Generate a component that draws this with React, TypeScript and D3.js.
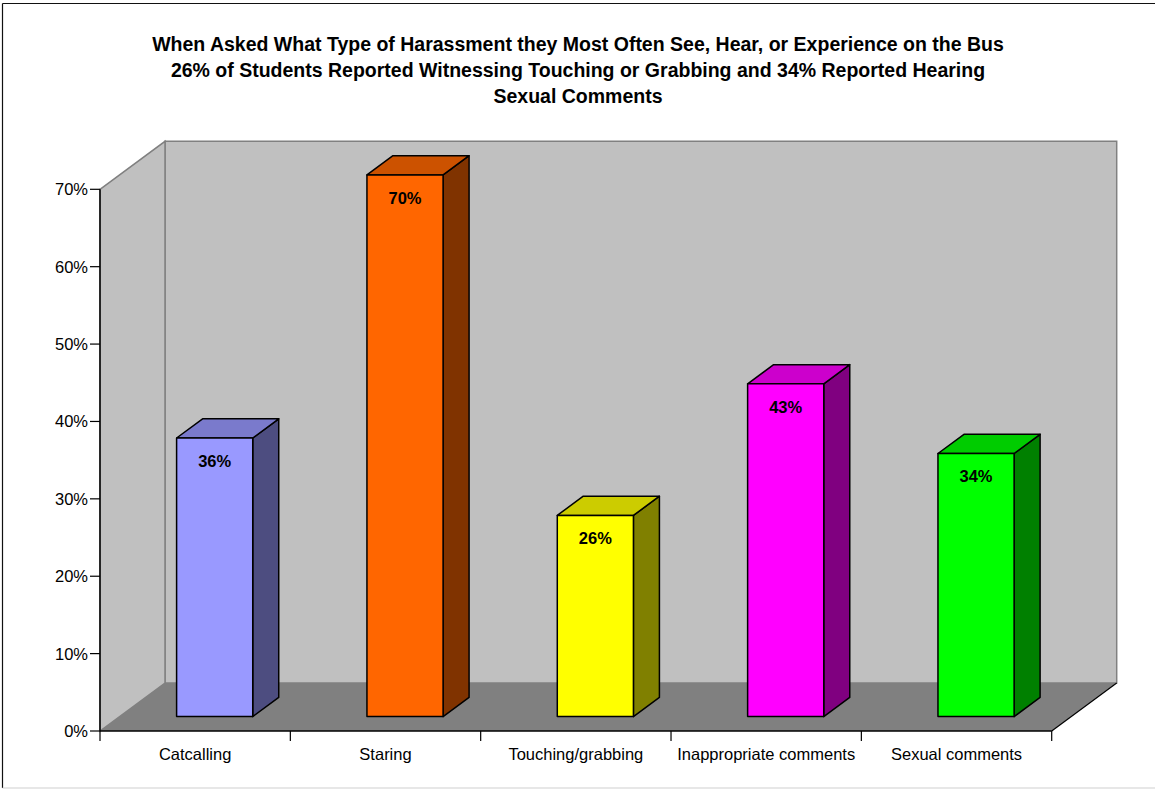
import React from "react";
import * as d3 from "d3";

const titleLines = [
  "When Asked What Type of Harassment they Most Often See, Hear, or Experience on the Bus",
  "26% of Students Reported Witnessing Touching or Grabbing and 34% Reported Hearing",
  "Sexual Comments",
];
const categories = ["Catcalling", "Staring", "Touching/grabbing", "Inappropriate comments", "Sexual comments"];
const values = [0.36, 0.70, 0.26, 0.43, 0.34];
const yTicks = [0, 0.1, 0.2, 0.3, 0.4, 0.5, 0.6, 0.7];
const frontColors = ["#9999FF", "#FF6600", "#FFFF00", "#FF00FF", "#00FF00"];
const topColors = ["#7A7ACC", "#CC5200", "#CCCC00", "#CC00CC", "#00CC00"];
const sideColors = ["#4D4D80", "#803300", "#808000", "#800080", "#008000"];

const W = 1155;
const H = 789;
const FONT = "'Liberation Sans', Arial, sans-serif";

export default function App() {
  const x0 = 100, x1 = 1051.7;
  const yBottom = 731, yTop = 189.3;
  const DX = 65, DY = 48;
  const dFront = 0.3, dBack = 0.7;

  const x = d3.scaleBand<string>().domain(categories).range([x0, x1]).paddingInner(0.6).paddingOuter(0.3);
  const xc = d3.scaleBand<string>().domain(categories).range([x0, x1]).padding(0);
  const y = d3.scaleLinear().domain([0, 0.7]).range([yBottom, yTop]);
  const fmt = d3.format(".0%");

  const pt = (px: number, py: number) => `${px},${py}`;

  const backWall = [pt(x0 + DX, yTop - DY), pt(x1 + DX, yTop - DY), pt(x1 + DX, yBottom - DY), pt(x0 + DX, yBottom - DY)].join(" ");
  const leftWall = [pt(x0, yTop), pt(x0 + DX, yTop - DY), pt(x0 + DX, yBottom - DY), pt(x0, yBottom)].join(" ");
  const floor = [pt(x0, yBottom), pt(x0 + DX, yBottom - DY), pt(x1 + DX, yBottom - DY), pt(x1, yBottom)].join(" ");

  return (
    <svg width={W} height={H} style={{ position: "absolute", left: 0, top: 0, background: "#fff" }} fontFamily={FONT}>
      <rect x={0} y={0} width={W} height={H} fill="#fff" />
      {/* chart border */}
      <line x1={2.5} y1={3.5} x2={W} y2={3.5} stroke="#111" strokeWidth={1.2} />
      <line x1={2.5} y1={3.5} x2={2.5} y2={788} stroke="#111" strokeWidth={1.2} />
      <line x1={2.5} y1={788} x2={W} y2={788} stroke="#cfcfcf" strokeWidth={1.2} />

      {/* title */}
      <g fontWeight="bold" fontSize={19.5} textAnchor="middle" fill="#000">
        {titleLines.map((t, i) => (
          <text key={i} x={578} y={50.5 + i * 26}>{t}</text>
        ))}
      </g>

      {/* walls */}
      <polygon points={backWall} fill="#C0C0C0" stroke="#808080" strokeWidth={1.5} />
      <polygon points={leftWall} fill="#C0C0C0" stroke="#808080" strokeWidth={1.5} />
      <polygon points={floor} fill="#808080" stroke="none" />
      <line x1={x1} y1={yBottom} x2={x1 + DX} y2={yBottom - DY} stroke="#000" strokeWidth={1.2} />
      <line x1={x0} y1={yBottom} x2={x1} y2={yBottom} stroke="#000" strokeWidth={1.5} />
      <line x1={x0} y1={yTop} x2={x0} y2={yBottom} stroke="#000" strokeWidth={1.5} />

      {/* y axis ticks */}
      {yTicks.map((t) => (
        <g key={t}>
          <line x1={x0 - 10} x2={x0} y1={y(t)} y2={y(t)} stroke="#000" strokeWidth={1.2} />
          <text x={x0 - 12} y={y(t)} dy="0.36em" textAnchor="end" fontSize={16.5} fill="#000">{fmt(t)}</text>
        </g>
      ))}

      {/* x axis ticks */}
      {categories.map((c, i) => (
        <line key={"t" + i} x1={xc(c)!} x2={xc(c)!} y1={yBottom} y2={yBottom + 10} stroke="#000" strokeWidth={1.2} />
      ))}
      <line x1={x1} x2={x1} y1={yBottom} y2={yBottom + 10} stroke="#000" strokeWidth={1.2} />
      {categories.map((c, i) => (
        <text key={"l" + i} x={xc(c)! + xc.bandwidth() / 2} y={760} textAnchor="middle" fontSize={16.5} fill="#000">{c}</text>
      ))}

      {/* bars */}
      {categories.map((c, i) => {
        const fx = x(c)! + DX * dFront;
        const fw = x.bandwidth();
        const fb = y(0) - DY * dFront;
        const ft = y(values[i]) - DY * dFront;
        const bdx = DX * (dBack - dFront);
        const bdy = DY * (dBack - dFront);
        const front = [pt(fx, ft), pt(fx + fw, ft), pt(fx + fw, fb), pt(fx, fb)].join(" ");
        const side = [pt(fx + fw, ft), pt(fx + fw + bdx, ft - bdy), pt(fx + fw + bdx, fb - bdy), pt(fx + fw, fb)].join(" ");
        const top = [pt(fx, ft), pt(fx + bdx, ft - bdy), pt(fx + fw + bdx, ft - bdy), pt(fx + fw, ft)].join(" ");
        return (
          <g key={"b" + i} stroke="#000" strokeWidth={1.5} strokeLinejoin="round">
            <polygon points={side} fill={sideColors[i]} />
            <polygon points={top} fill={topColors[i]} />
            <polygon points={front} fill={frontColors[i]} />
            <text x={fx + fw / 2} y={ft + 29} textAnchor="middle" fontWeight="bold" fontSize={16.5} fill="#000" stroke="none">{fmt(values[i])}</text>
          </g>
        );
      })}
    </svg>
  );
}
